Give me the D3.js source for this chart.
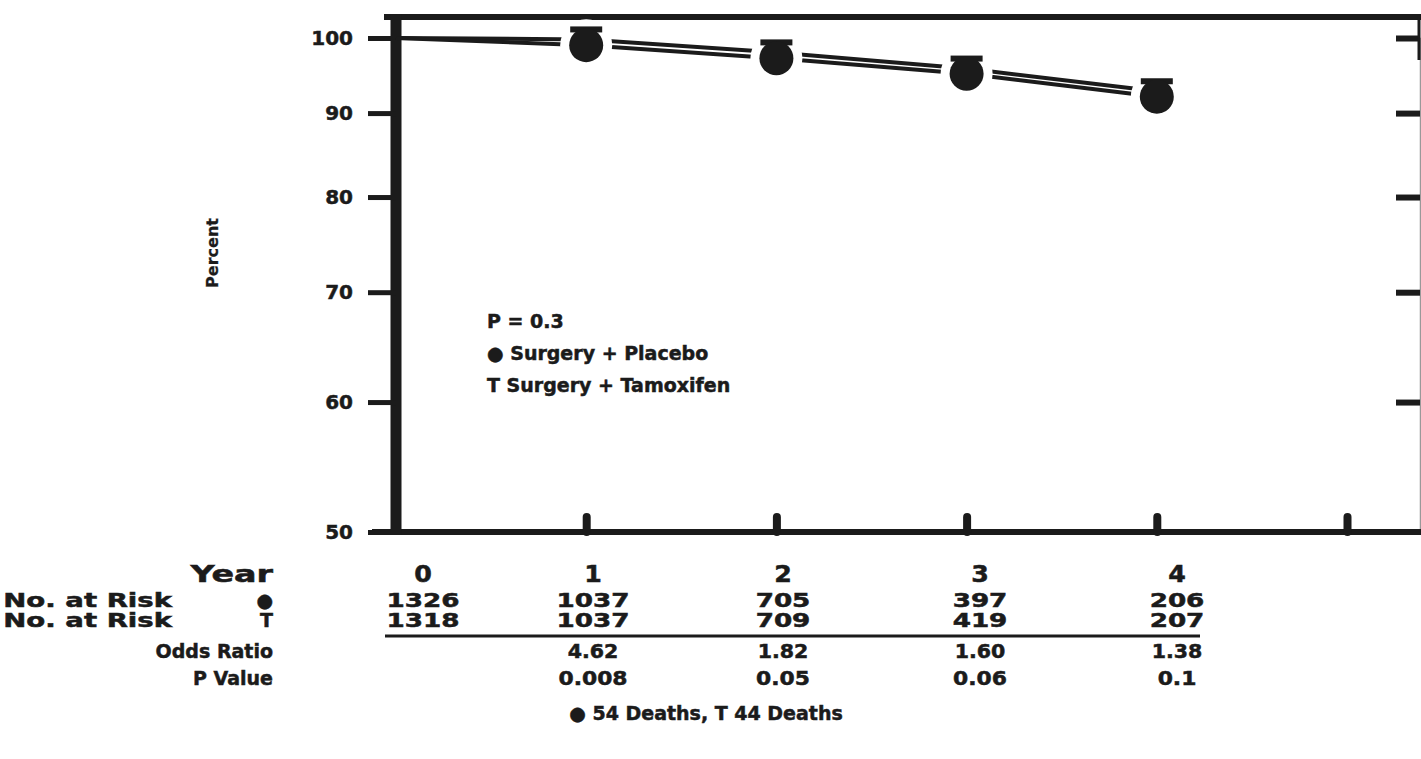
<!DOCTYPE html>
<html>
<head>
<meta charset="utf-8">
<script src="https://cdn.jsdelivr.net/npm/d3@7"></script>
<style>
body { margin: 0; background: #fff; }
text { font-family: "DejaVu Sans", sans-serif; font-weight: bold; fill: #1b1b1b; stroke: #1b1b1b; stroke-width: 0.5px; }
</style>
</head>
<body>
<svg id="chart" width="1421" height="759"></svg>
<script>
// values
var years = [0, 1, 2, 3, 4];
var placebo = [100, 99.0, 97.2, 95.1, 92.1];
var tamoxifen = [100, 99.8, 98.0, 95.8, 92.8];
var yTicks = [50, 60, 70, 80, 90, 100];
var xTicks = [1, 2, 3, 4, 5];
var riskPlacebo = ["1326", "1037", "705", "397", "206"];
var riskTamoxifen = ["1318", "1037", "709", "419", "207"];
var oddsRatio = ["", "4.62", "1.82", "1.60", "1.38"];
var pValue = ["", "0.008", "0.05", "0.06", "0.1"];
var legendLines = ["P = 0.3", "\u25CF Surgery + Placebo", "T Surgery + Tamoxifen"];
var deathsNote = "\u25CF 54 Deaths, T 44 Deaths";

var ink = "#1b1b1b";
var svg = d3.select("#chart");

var x = d3.scaleLinear().domain([0, 5]).range([396, 1347]);
var y = d3.scaleLog().domain([50, 100]).range([532, 38]);

// frame: top line
svg.append("line")
    .attr("x1", 384).attr("x2", 1421)
    .attr("y1", 17).attr("y2", 17)
    .attr("stroke", ink).attr("stroke-width", 6);

// right axis, ticks pointing inward
var rightAxis = svg.append("g")
    .attr("transform", "translate(1420,0)")
    .call(d3.axisLeft(y).tickValues(yTicks.slice(1)).tickSize(24).tickFormat(""));
rightAxis.select(".domain").attr("stroke", "#999").attr("stroke-width", 1.5);
rightAxis.selectAll(".tick line").attr("stroke", ink).attr("stroke-width", 6);
svg.append("line")
    .attr("x1", 1419).attr("x2", 1419).attr("y1", 15).attr("y2", 60)
    .attr("stroke", ink).attr("stroke-width", 3);

// bottom axis with small upward ticks
var bottomAxis = svg.append("g")
    .attr("transform", "translate(0,532)")
    .call(d3.axisBottom(x).tickValues(xTicks).tickSize(-15).tickFormat("").tickSizeOuter(0));
bottomAxis.select(".domain")
    .attr("d", "M372,0H1421")
    .attr("stroke", ink).attr("stroke-width", 6);
bottomAxis.selectAll(".tick line").attr("stroke", ink).attr("stroke-width", 8)
    .attr("stroke-linecap", "round");

// left axis
var leftAxis = svg.append("g")
    .attr("transform", "translate(396,0)")
    .call(d3.axisLeft(y).tickValues(yTicks).tickSize(28).tickPadding(15)
        .tickFormat(d3.format("d")).tickSizeOuter(0));
leftAxis.select(".domain")
    .attr("d", "M0,14V535")
    .attr("stroke", ink).attr("stroke-width", 11);
leftAxis.selectAll(".tick line").attr("stroke", ink).attr("stroke-width", 5);
leftAxis.selectAll(".tick text")
    .style("font-family", "'DejaVu Sans', sans-serif")
    .style("font-weight", "bold")
    .style("font-size", "20px")
    .attr("fill", ink);

svg.append("text")
    .attr("transform", "translate(218,253) rotate(-90)")
    .attr("text-anchor", "middle")
    .style("font-size", "16px")
    .style("stroke-width", "0.3px")
    .text("Percent");

// survival lines
var line = d3.line()
    .x(function (d, i) { return x(years[i]); })
    .y(function (d) { return y(d); });

svg.append("path").datum(tamoxifen)
    .attr("d", line).attr("fill", "none")
    .attr("stroke", ink).attr("stroke-width", 4);
svg.append("path").datum(placebo)
    .attr("d", line).attr("fill", "none")
    .attr("stroke", ink).attr("stroke-width", 4);

var marks = years.slice(1).map(function (yr) {
    return { year: yr, p: placebo[yr], t: tamoxifen[yr] };
});

// white gaps around markers
svg.selectAll(".halo").data(marks).enter().append("circle")
    .attr("class", "halo")
    .attr("cx", function (d) { return x(d.year); })
    .attr("cy", function (d) { return y(d.p); })
    .attr("r", 26).attr("fill", "#fff");

// T markers (tamoxifen)
var tMark = svg.selectAll(".tmark").data(marks).enter().append("g")
    .attr("class", "tmark")
    .attr("transform", function (d) { return "translate(" + x(d.year) + "," + y(d.t) + ")"; });
tMark.append("rect").attr("x", -16).attr("y", -13).attr("width", 32).attr("height", 6).attr("fill", ink);
tMark.append("rect").attr("x", -3).attr("y", -11).attr("width", 6).attr("height", 14).attr("fill", ink);

// circle markers (placebo)
svg.selectAll(".pmark").data(marks).enter().append("circle")
    .attr("class", "pmark")
    .attr("cx", function (d) { return x(d.year); })
    .attr("cy", function (d) { return y(d.p); })
    .attr("r", 17).attr("fill", ink);

// legend inside the plot
svg.append("g").selectAll("text").data(legendLines).enter().append("text")
    .attr("x", 487)
    .attr("y", function (d, i) { return 328 + i * 32; })
    .style("font-size", "19px")
    .text(function (d) { return d; });

// table under the plot; sx = horizontal stretch of the scanned lettering
var col = d3.scaleOrdinal().domain(years).range([423, 593, 783, 980, 1177]);
var rows = [
    { label: "Year", key: "", vals: years.map(String), y: 582, size: 23, lx: 273, lsx: 1.45, vsx: 1.1 },
    { label: "No. at Risk", key: "\u25CF", vals: riskPlacebo, y: 607, size: 19, lx: 172, lsx: 1.45, vsx: 1.38 },
    { label: "No. at Risk", key: "T", vals: riskTamoxifen, y: 627, size: 19, lx: 172, lsx: 1.45, vsx: 1.38 },
    { label: "Odds Ratio", key: "", vals: oddsRatio, y: 658, size: 19, lx: 273, lsx: 1, vsx: 1.08 },
    { label: "P Value", key: "", vals: pValue, y: 685, size: 19, lx: 273, lsx: 1, vsx: 1.15 }
];

function stretchedText(g, tx, ty, sx, anchor, size, str) {
    g.append("text")
        .attr("transform", "translate(" + tx + "," + ty + ") scale(" + sx + ",1)")
        .attr("text-anchor", anchor)
        .style("font-size", size + "px")
        .text(str);
}

var table = svg.append("g");
rows.forEach(function (r) {
    stretchedText(table, r.lx, r.y, r.lsx, "end", r.size, r.label);
    if (r.key !== "") stretchedText(table, 273, r.y, 1, "end", r.size, r.key);
    r.vals.forEach(function (v, i) {
        stretchedText(table, col(years[i]), r.y, r.vsx, "middle", r.size, v);
    });
});

table.append("line")
    .attr("x1", 385).attr("x2", 1200)
    .attr("y1", 636).attr("y2", 636)
    .attr("stroke", ink).attr("stroke-width", 3);

svg.append("text")
    .attr("x", 706).attr("y", 720)
    .attr("text-anchor", "middle")
    .style("font-size", "19px")
    .text(deathsNote);
</script>
</body>
</html>
